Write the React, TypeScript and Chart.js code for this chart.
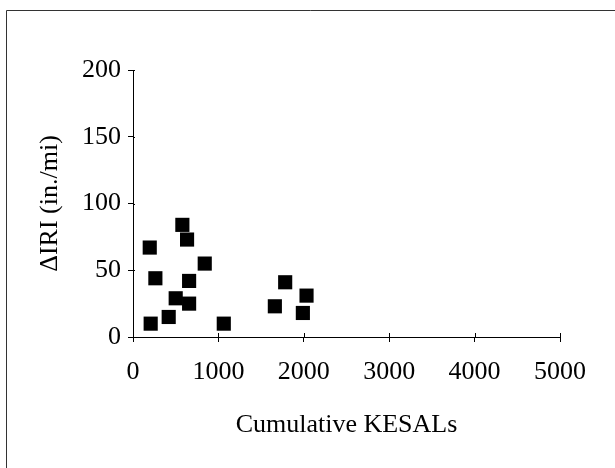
import React, { useEffect, useRef } from "react";
import { Chart, registerables } from "chart.js";

Chart.register(...registerables);

const kesals = [196, 578, 633, 840, 262, 657, 500, 657, 207, 418, 1063, 1661, 1782, 2032, 1989];
const deltaIri = [67, 84, 73, 55, 44, 42, 29, 25, 10, 15, 10, 23, 41, 31, 18];
const xMin = 0;
const xMax = 5000;
const xStep = 1000;
const yMin = 0;
const yMax = 200;
const yStep = 50;
const xTitle = "Cumulative KESALs";
const yTitle = "\u0394IRI (in./mi)";

const FONT = "'Liberation Serif', 'Times New Roman', serif";

const decorPlugin = {
  id: "decor",
  beforeDraw(chart: any) {
    const ctx = chart.ctx;
    ctx.save();
    ctx.strokeStyle = "#333";
    ctx.lineWidth = 1;
    ctx.beginPath();
    ctx.moveTo(6.5, chart.height);
    ctx.lineTo(6.5, 10.5);
    ctx.lineTo(chart.width, 10.5);
    ctx.stroke();
    ctx.restore();
  },
  afterDraw(chart: any) {
    const ctx = chart.ctx;
    const xs = chart.scales.x;
    const ys = chart.scales.y;
    const area = chart.chartArea;
    ctx.save();
    ctx.strokeStyle = "#000";
    ctx.lineWidth = 1;
    ctx.beginPath();
    xs.ticks.forEach((t: any) => {
      const px = Math.round(xs.getPixelForValue(t.value)) + 0.5;
      ctx.moveTo(px, area.bottom - 4);
      ctx.lineTo(px, area.bottom);
    });
    ys.ticks.forEach((t: any) => {
      const py = Math.round(ys.getPixelForValue(t.value)) + 0.5;
      ctx.moveTo(area.left, py);
      ctx.lineTo(area.left + 2, py);
    });
    ctx.stroke();
    ctx.restore();
  },
};

export default function App() {
  const ref = useRef<HTMLCanvasElement | null>(null);
  useEffect(() => {
    if (!ref.current) return;
    const chart = new Chart(ref.current, {
      type: "scatter",
      data: {
        datasets: [
          {
            data: kesals.map((x, i) => ({ x, y: deltaIri[i] })),
            pointStyle: "rect",
            pointRadius: 10,
            pointHoverRadius: 10,
            backgroundColor: "#000",
            borderColor: "#000",
            borderWidth: 0,
            showLine: false,
          },
        ],
      },
      options: {
        animation: false,
        responsive: false,
        devicePixelRatio: 1,
        layout: { padding: { top: 70, right: 55, left: 0, bottom: 0 } },
        plugins: { legend: { display: false }, tooltip: { enabled: false } },
        scales: {
          x: {
            type: "linear",
            min: xMin,
            max: xMax,
            ticks: {
              stepSize: xStep,
              color: "#000",
              font: { family: FONT, size: 26 },
              padding: 15,
              maxRotation: 0,
              callback: (v: any) => String(v),
            },
            grid: { drawOnChartArea: false, drawTicks: true, tickLength: 5, color: "#000" },
            border: { display: true, color: "#000", width: 1 },
            title: { display: true, text: xTitle, color: "#000", font: { family: FONT, size: 26 }, padding: { top: 0, bottom: 27 } },
            afterFit: (s: any) => { s.height = 131; },
          },
          y: {
            type: "linear",
            min: yMin,
            max: yMax,
            ticks: {
              stepSize: yStep,
              color: "#000",
              font: { family: FONT, size: 26 },
              padding: 7,
              callback: (v: any) => String(v),
            },
            grid: { drawOnChartArea: false, drawTicks: true, tickLength: 5, color: "#000" },
            border: { display: true, color: "#000", width: 1 },
            title: { display: true, text: yTitle, color: "#000", font: { family: FONT, size: 26 }, padding: { top: 35, bottom: 0 } },
            afterFit: (s: any) => { s.width = 133; },
          },
        },
      },
      plugins: [decorPlugin],
    });
    return () => chart.destroy();
  }, []);
  return (
    <div style={{ position: "absolute", left: 0, top: 0, width: 615, height: 468, background: "#fff" }}>
      <canvas ref={ref} width={615} height={468} style={{ display: "block" }} />
    </div>
  );
}
